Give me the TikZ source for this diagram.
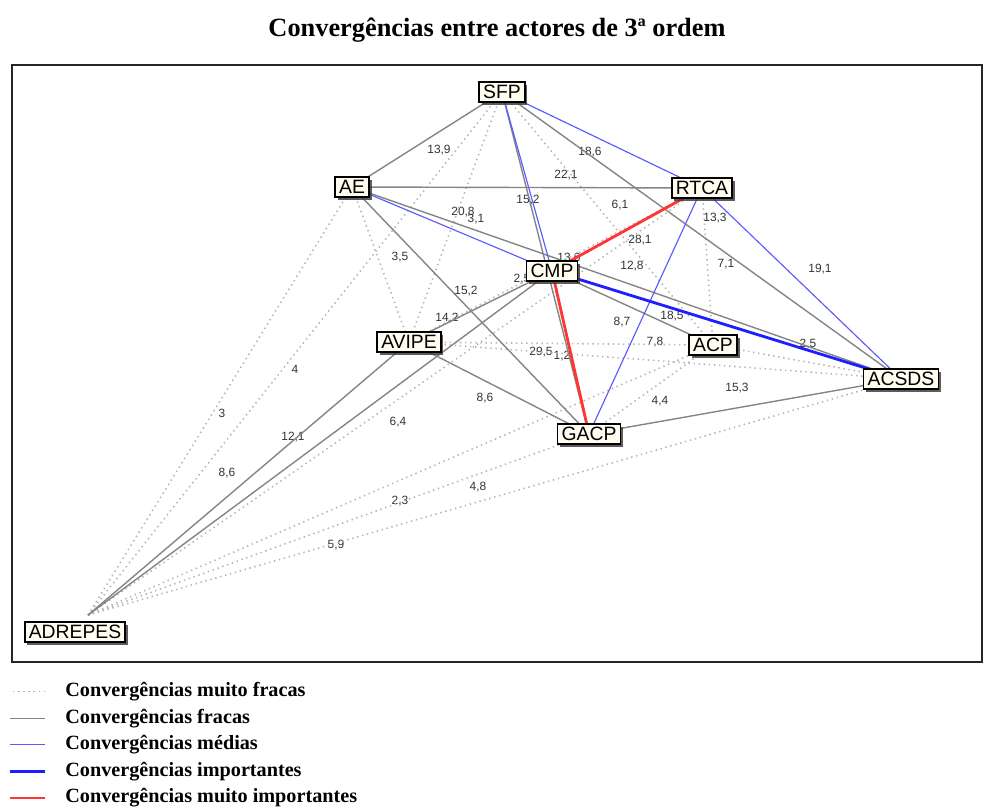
\documentclass[tikz,border=0pt]{standalone}
\usepackage{fontspec}
\setmainfont{Liberation Serif}
\setsansfont{Liberation Sans}
\usetikzlibrary{shadows}
\definecolor{cvgray}{HTML}{858585}
\definecolor{cvdot}{HTML}{B4B4B4}
\definecolor{cvblue}{HTML}{5A5AFF}
\definecolor{cvdeep}{HTML}{1E1EFF}
\definecolor{cvred}{HTML}{FF3434}
\definecolor{cvcream}{HTML}{FFFCF0}
\pgfdeclarelayer{rotulos}
\pgfdeclarelayer{arestas}
\pgfsetlayers{rotulos,arestas,main}

\begin{document}
\begin{tikzpicture}[
  x=0.02cm, y=-0.02cm,
  ator/.style={
    draw=black, line width=0.9pt, fill=cvcream, font=\fontsize{11}{12}\selectfont\sffamily,
    inner xsep=2.3pt, inner ysep=0.5pt, minimum height=11.5pt,
    drop shadow={shadow xshift=1.5pt, shadow yshift=-1.5pt, fill=black!75, opacity=0.85}
  },
  rotulo/.style={font=\fontsize{6.8}{8}\selectfont\sffamily, text=black!80, inner sep=0pt},
  titulo/.style={font=\fontsize{15}{17}\selectfont\bfseries},
  legenda/.style={font=\fontsize{11.5}{13}\selectfont\bfseries, anchor=west, inner sep=0pt},
  moldura/.style={draw=black!85, line width=0.8pt},
  muitofraca/.style={cvdot, line width=0.9pt, dash pattern=on 0.8pt off 2.1pt},
  fraca/.style={cvgray, line width=0.8pt},
  media/.style={cvblue, line width=0.65pt},
  importante/.style={cvdeep, line width=1.6pt},
  muitoimportante/.style={cvred, line width=1.6pt},
]
  \useasboundingbox (0,0) rectangle (987,808);

  % Title
  \node[titulo] (titulo) at (497,30) {Convergências entre actores de 3ª ordem};

  % Frame
  \draw[moldura] (12,65) rectangle (982,662);

  % Actors
  \node[ator] (sfp)     at (502,92)  {SFP};
  \node[ator] (ae)      at (352,187) {AE};
  \node[ator] (rtca)    at (702,188) {RTCA};
  \node[ator] (cmp)     at (552,271) {CMP};
  \node[ator] (avipe)   at (409,342) {AVIPE};
  \node[ator] (acp)     at (713,345) {ACP};
  \node[ator] (acsds)   at (901,379) {ACSDS};
  \node[ator] (gacp)    at (589,434) {GACP};
  \node[ator] (adrepes) at (75,632)  {ADREPES};

  % Edges, weakest below
  \begin{pgfonlayer}{arestas}
    \foreach \b in {sfp,ae,rtca,acp,gacp,acsds}
      \draw[muitofraca] ([shift={(13,-6)}]adrepes.north) -- (\b.center);
    \foreach \a/\b in {sfp/avipe, sfp/acp, ae/avipe, avipe/acp, avipe/acsds,
                       acp/acsds, gacp/acp, rtca/acp, rtca/avipe}
      \draw[muitofraca] (\a.center) -- (\b.center);
    \foreach \b in {avipe,cmp}
      \draw[fraca] ([shift={(13,-6)}]adrepes.north) -- (\b.center);
    \foreach \a/\b in {sfp/ae, ae/rtca, sfp/gacp, sfp/acsds, ae/acsds, ae/gacp,
                       cmp/acp, avipe/cmp, avipe/gacp, gacp/acsds}
      \draw[fraca] (\a.center) -- (\b.center);
    \foreach \a/\b in {sfp/rtca, sfp/cmp, ae/cmp, rtca/gacp, rtca/acsds}
      \draw[media] (\a.center) -- (\b.center);
    \draw[importante] (cmp.center) -- (acsds.center);
    \draw[muitoimportante] (rtca.center) -- (cmp.center);
    \draw[muitoimportante] (cmp.center) -- (gacp.center);
  \end{pgfonlayer}

  % Edge values
  \begin{pgfonlayer}{rotulos}
    \foreach \t/\x/\y [count=\i] in {13{,}9/439/150, 18{,}6/590/152, 22{,}1/566/175,
        15{,}2/528/200, 6{,}1/620/205, 20{,}8/463/212, 3{,}1/476/219, 13{,}3/715/218,
        28{,}1/640/240, 3{,}5/400/257, 13{,}6/569/258, 12{,}8/632/266, 7{,}1/726/264,
        19{,}1/820/269, 2{,}5/522/279, 15{,}2/466/291, 14{,}2/447/318, 8{,}7/622/322,
        18{,}5/672/316, 2{,}5/808/344, 7{,}8/655/342, 29{,}5/541/352, 1{,}2/562/356,
        4/295/369, 15{,}3/737/388, 8{,}6/485/398, 4{,}4/660/401, 3/222/413,
        6{,}4/398/422, 12{,}1/293/437, 8{,}6/227/473, 4{,}8/478/487, 2{,}3/400/501,
        5{,}9/336/545}
      \node[rotulo] (val\i) at (\x,\y) {\t};
  \end{pgfonlayer}

  % Legend
  \foreach \estilo/\texto [count=\i] in {muitofraca/Convergências muito fracas,
      fraca/Convergências fracas, media/Convergências médias,
      importante/Convergências importantes, muitoimportante/Convergências muito importantes} {
    \node[legenda] (leg\i) at (65,665+26.6*\i) {\texto};
    \draw[\estilo] ([xshift=-0.4cm]leg\i.west) -- ++(-35,0);
  }

\end{tikzpicture}
\end{document}
